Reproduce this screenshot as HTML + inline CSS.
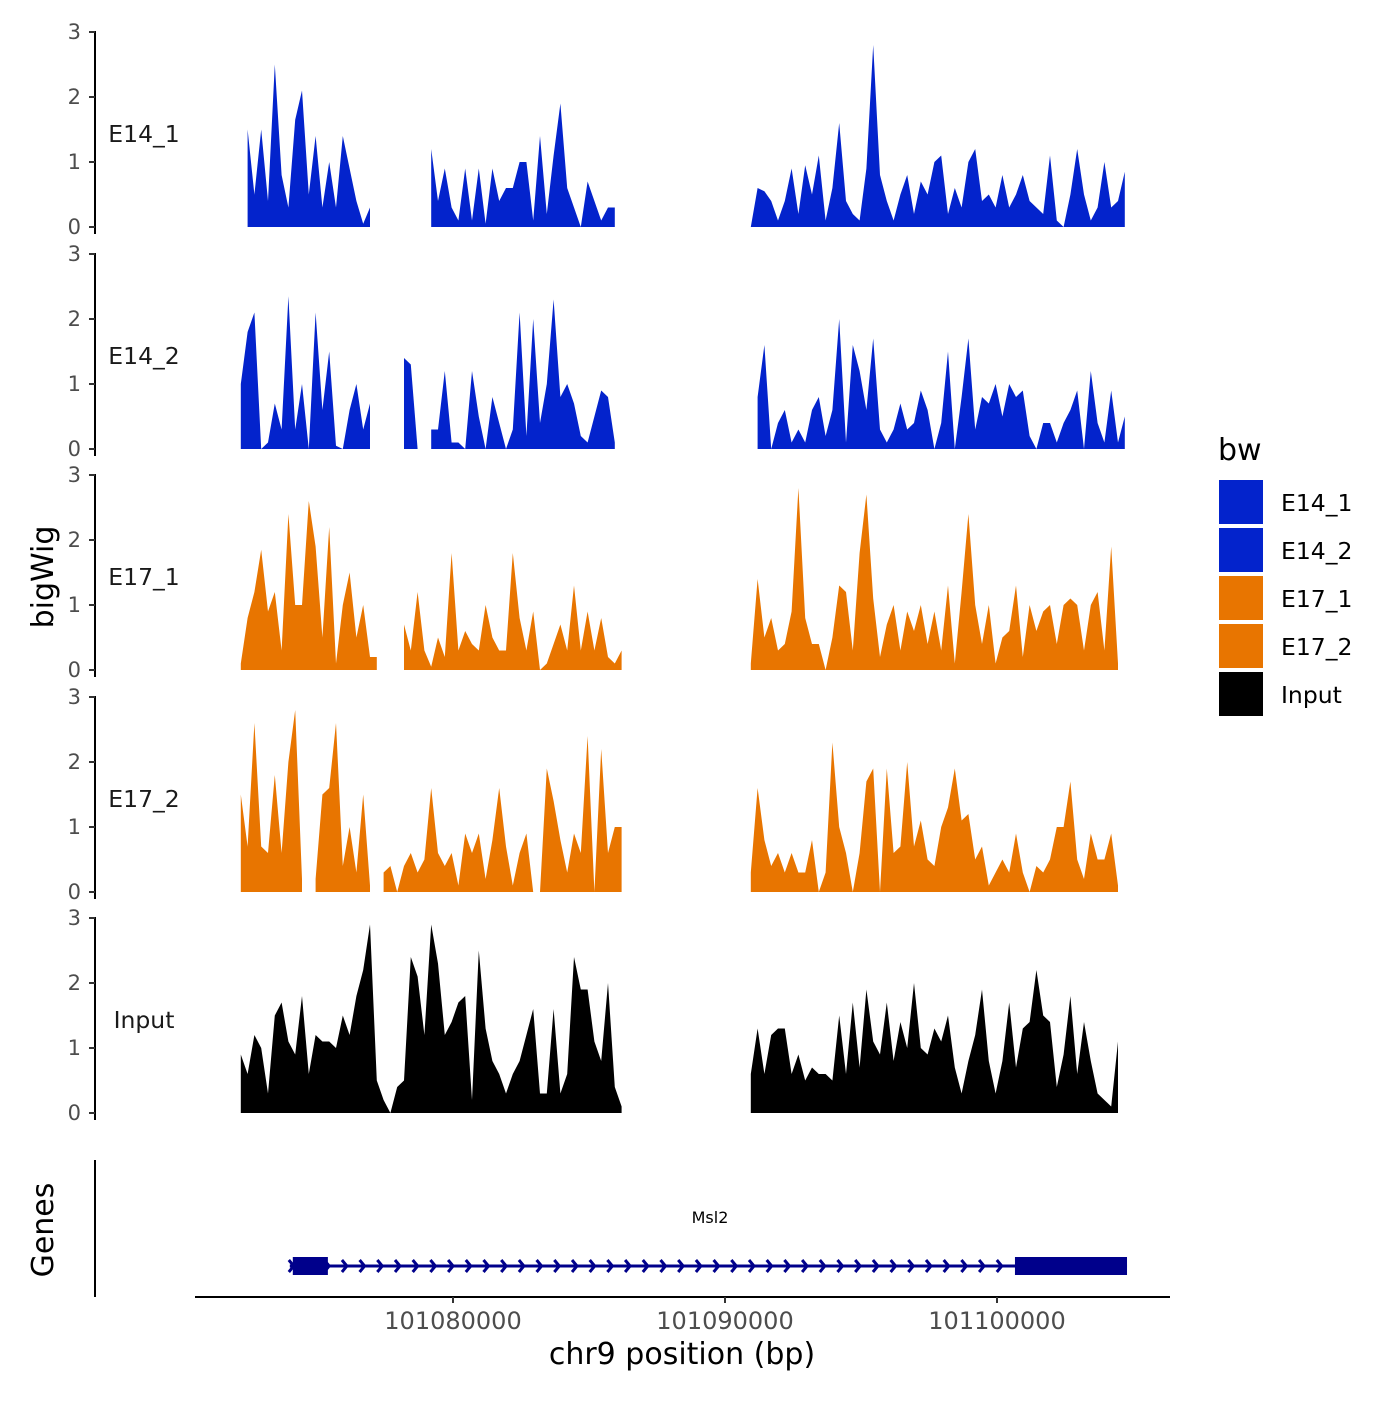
<!DOCTYPE html>
<html><head><meta charset="utf-8"><style>
html,body{margin:0;padding:0;background:#fff;}
svg text{font-family:"DejaVu Sans","Liberation Sans",sans-serif;}
</style></head><body>
<svg id="chart" width="1400" height="1400" viewBox="0 0 1400 1400" xmlns="http://www.w3.org/2000/svg">
<g id="tracks"></g>
<g id="genes"></g>
<g id="axes"></g>
<g id="legend"></g>
</svg>
<script>
const NS="http://www.w3.org/2000/svg";
const binStart=101072200, binStep=250;
const trackNames=["E14_1","E14_2","E17_1","E17_2","Input"];
const trackColors=["#0323CC","#0323CC","#E87500","#E87500","#000000"];
const yTicks=[0,1,2,3];
const xTicks=[101080000,101090000,101100000];
const xTickLabels=["101080000","101090000","101100000"];
const N=null;
const e14_1=[N,1.5,0.5,1.5,0.4,2.5,0.8,0.3,1.65,2.1,0.5,1.4,0.3,1.0,0.3,1.4,0.9,0.4,0.05,0.3,N,N,N,N,N,N,N,N,1.2,0.4,0.9,0.3,0.1,0.9,0.1,0.9,0.05,0.9,0.4,0.6,0.6,1.0,1.0,0.1,1.4,0.2,1.1,1.9,0.6,0.3,0.0,0.7,0.4,0.1,0.3,0.3,N,N,N,N,N,N,N,N,N,N,N,N,N,N,N,N,N,N,N,0.0,0.6,0.55,0.4,0.1,0.4,0.9,0.2,0.95,0.5,1.1,0.1,0.6,1.6,0.4,0.2,0.1,0.9,2.8,0.8,0.4,0.1,0.5,0.8,0.2,0.7,0.5,1.0,1.1,0.2,0.6,0.3,1.0,1.2,0.4,0.5,0.3,0.8,0.3,0.5,0.8,0.4,0.3,0.2,1.1,0.1,0.0,0.5,1.2,0.5,0.1,0.3,1.0,0.3,0.4,0.85];
const e14_2=[1.0,1.8,2.1,0.0,0.1,0.7,0.3,2.35,0.3,1.0,0.0,2.1,0.6,1.5,0.05,0.0,0.6,1.0,0.3,0.7,N,N,N,N,1.4,1.3,0.0,N,0.3,0.3,1.2,0.1,0.1,0.0,1.2,0.5,0.0,0.8,0.4,0.0,0.3,2.1,0.2,2.0,0.4,1.0,2.3,0.8,1.0,0.7,0.2,0.1,0.5,0.9,0.8,0.1,N,N,N,N,N,N,N,N,N,N,N,N,N,N,N,N,N,N,N,N,0.8,1.6,0.0,0.4,0.6,0.1,0.3,0.1,0.6,0.8,0.2,0.6,2.0,0.1,1.6,1.2,0.6,1.7,0.3,0.1,0.3,0.7,0.3,0.4,0.9,0.6,0.0,0.4,1.5,0.0,0.8,1.7,0.3,0.8,0.7,1.0,0.5,1.0,0.8,0.9,0.2,0.0,0.4,0.4,0.1,0.4,0.6,0.9,0.0,1.2,0.4,0.1,0.9,0.1,0.5];
const e17_1=[0.1,0.8,1.2,1.85,0.9,1.2,0.3,2.4,1.0,1.0,2.6,1.9,0.5,2.2,0.1,1.0,1.5,0.5,1.0,0.2,0.2,N,N,N,0.7,0.3,1.2,0.3,0.05,0.5,0.2,1.8,0.3,0.6,0.4,0.3,1.0,0.5,0.3,0.3,1.8,0.8,0.3,0.9,0.0,0.1,0.4,0.7,0.3,1.3,0.3,0.9,0.3,0.8,0.2,0.1,0.3,N,N,N,N,N,N,N,N,N,N,N,N,N,N,N,N,N,N,0.1,1.4,0.5,0.8,0.3,0.4,0.9,2.8,0.8,0.4,0.4,0.0,0.5,1.3,1.2,0.3,1.8,2.7,1.1,0.2,0.7,1.0,0.3,0.9,0.6,1.0,0.4,0.9,0.3,1.3,0.1,1.2,2.4,1.0,0.4,1.0,0.1,0.5,0.6,1.3,0.2,1.0,0.6,0.9,1.0,0.4,1.0,1.1,1.0,0.3,1.0,1.2,0.3,1.9,0.1];
const e17_2=[1.5,0.7,2.6,0.7,0.6,1.8,0.6,2.0,2.8,0.2,N,0.2,1.5,1.6,2.6,0.4,1.0,0.3,1.5,0.1,N,0.3,0.4,0.0,0.4,0.6,0.3,0.5,1.6,0.6,0.4,0.6,0.1,0.9,0.6,0.9,0.2,0.8,1.6,0.7,0.1,0.6,0.9,0.0,0.0,1.9,1.4,0.8,0.3,0.9,0.6,2.4,0.0,2.2,0.6,1.0,1.0,N,N,N,N,N,N,N,N,N,N,N,N,N,N,N,N,N,N,0.3,1.6,0.8,0.4,0.6,0.3,0.6,0.3,0.3,0.8,0.0,0.3,2.3,1.0,0.6,0.0,0.6,1.7,1.9,0.0,1.9,0.6,0.7,2.0,0.7,1.1,0.5,0.4,1.0,1.3,1.9,1.1,1.2,0.5,0.7,0.1,0.3,0.5,0.3,0.9,0.3,0.0,0.4,0.3,0.5,1.0,1.0,1.7,0.5,0.2,0.9,0.5,0.5,0.9,0.1];
const input=[0.9,0.6,1.2,1.0,0.3,1.5,1.7,1.1,0.9,1.8,0.6,1.2,1.1,1.1,1.0,1.5,1.2,1.8,2.2,2.9,0.5,0.2,0.0,0.4,0.5,2.4,2.1,1.2,2.9,2.3,1.2,1.4,1.7,1.8,0.2,2.5,1.3,0.8,0.6,0.3,0.6,0.8,1.2,1.6,0.3,0.3,1.6,0.3,0.6,2.4,1.9,1.9,1.1,0.8,2.0,0.4,0.1,N,N,N,N,N,N,N,N,N,N,N,N,N,N,N,N,N,N,0.6,1.3,0.6,1.2,1.3,1.3,0.6,0.9,0.5,0.7,0.6,0.6,0.5,1.5,0.6,1.7,0.7,1.9,1.1,0.9,1.7,0.8,1.4,1.0,2.0,1.0,0.9,1.3,1.1,1.5,0.7,0.3,0.8,1.2,1.9,0.8,0.3,0.8,1.7,0.7,1.3,1.4,2.2,1.5,1.4,0.4,0.9,1.8,0.6,1.4,0.8,0.3,0.2,0.1,1.1];
const trackValues=[e14_1,e14_2,e17_1,e17_2,input];
const geneStart=101074000, geneEnd=101104780;
const geneExons=[[101074000,101075400],[101100550,101104780]];
const geneName="Msl2";

const xScale=bp=>453+(bp-101080000)/10000*272;
const baselines=[227,449,670,892,1113];
const yScale=(t,v)=>baselines[t]-v*65;

const tracksG=document.getElementById('tracks');
const axesG=document.getElementById('axes');
function mk(tag,attrs,parent){const e=document.createElementNS(NS,tag);for(const k in attrs)e.setAttribute(k,attrs[k]);parent.appendChild(e);return e;}

trackValues.forEach((vals,t)=>{
  const g=mk('g',{},tracksG);
  
  
  let seg=[];
  const flush=()=>{
    if(seg.length){
      let d='M'+seg[0][0].toFixed(1)+','+baselines[t];
      seg.forEach(p=>d+='L'+p[0].toFixed(1)+','+p[1].toFixed(1));
      d+='L'+seg[seg.length-1][0].toFixed(1)+','+baselines[t]+'Z';
      const p=mk('path',{d:d,fill:trackColors[t]},g);
      
      
    }
    seg=[];
  };
  vals.forEach((v,i)=>{
    if(v===null){flush();return;}
    seg.push([xScale(binStart+binStep*i),yScale(t,v)]);
  });
  flush();
  const ax=mk('line',{x1:95,x2:95,y1:yScale(t,3)-1,y2:baselines[t]+7,stroke:'#000','stroke-width':2},axesG);
  
  
  yTicks.forEach(v=>{
    const y=yScale(t,v);
    const tk=mk('line',{x1:89,x2:95,y1:y,y2:y,stroke:'#333','stroke-width':2},axesG);
    
    
    const tl=mk('text',{x:81,y:y+7,'text-anchor':'end','font-size':21,fill:'#4d4d4d'},axesG);
    tl.textContent=v;
    
    
  });
  const lb=mk('text',{x:144,y:baselines[t]-85,'text-anchor':'middle','font-size':23.5,fill:'#1a1a1a'},axesG);
  lb.textContent=trackNames[t];
  
  
});

const gg=document.getElementById('genes');
const gl=mk('line',{x1:xScale(geneStart),x2:xScale(geneEnd),y1:1266,y2:1266,stroke:'#00008B','stroke-width':3},gg);


for(let x=xScale(geneStart)+2;x<xScale(geneExons[1][0]);x+=17.7){
  const c=mk('polyline',{points:(x-3)+',1260 '+(x+2)+',1266 '+(x-3)+',1272',fill:'none',stroke:'#00008B','stroke-width':3},gg);
  
  
}
geneExons.forEach(ex=>{
  const r=mk('rect',{x:xScale(ex[0])+3,y:1257,width:xScale(ex[1])-xScale(ex[0])-3,height:18,fill:'#00008B'},gg);
  
  
});
const gn=mk('text',{x:710,y:1223,'text-anchor':'middle','font-size':16,fill:'#000'},gg);
gn.textContent=geneName;


const ga=mk('line',{x1:95,x2:95,y1:1160,y2:1297,stroke:'#000','stroke-width':2},axesG);



const xa=mk('line',{x1:195,x2:1170,y1:1297,y2:1297,stroke:'#000','stroke-width':2},axesG);


xTicks.forEach((b,i)=>{
  const x=xScale(b);
  const tk=mk('line',{x1:x,x2:x,y1:1297,y2:1303,stroke:'#333','stroke-width':2},axesG);
  
  
  const tl=mk('text',{x:x,y:1329,'text-anchor':'middle','font-size':24,fill:'#4d4d4d'},axesG);
  tl.textContent=xTickLabels[i];
  
  
});
const xt=mk('text',{x:682,y:1364,'text-anchor':'middle','font-size':30,fill:'#000'},axesG);
xt.textContent='chr9 position (bp)';


const yt=mk('text',{x:0,y:0,'text-anchor':'middle','font-size':30,fill:'#000',transform:'translate(53,577) rotate(-90)'},axesG);
yt.textContent='bigWig';


const gt=mk('text',{x:0,y:0,'text-anchor':'middle','font-size':30,fill:'#000',transform:'translate(53,1230) rotate(-90)'},axesG);
gt.textContent='Genes';



const lg=document.getElementById('legend');
const ltitle=mk('text',{x:1218,y:460,'font-size':30,fill:'#000'},lg);
ltitle.textContent='bw';


trackNames.forEach((n,i)=>{
  const y=480+i*48;
  const r=mk('rect',{x:1219,y:y,width:44,height:44,fill:trackColors[i]},lg);
  
  
  const t=mk('text',{x:1281,y:y+31,'font-size':23.5,fill:'#000'},lg);
  t.textContent=n;
  
  
});
</script>
</body></html>
